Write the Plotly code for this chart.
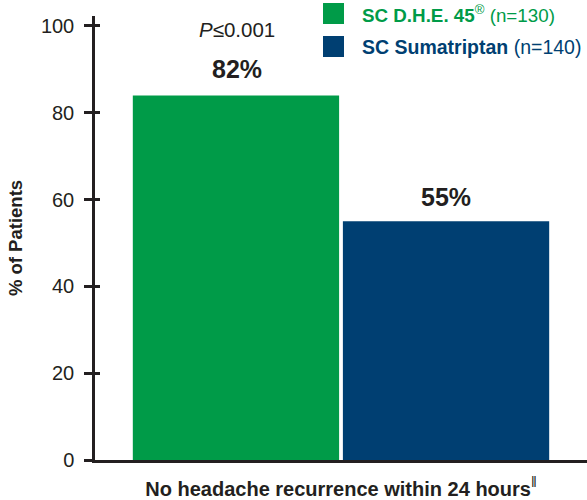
import plotly.graph_objects as go

# values
category = ["<b>No headache recurrence within 24 hours</b><sup>‖</sup>"]
groups = ["SC D.H.E. 45", "SC Sumatriptan"]
bar_heights = [84, 55]
bar_labels = ["82%", "55%"]
group_counts = [130, 140]
p_value_text = "<i>P</i>≤0.001"
y_ticks = [0, 20, 40, 60, 80, 100]

GREEN = "#009B48"
BLUE = "#003F72"
INK = "#231F20"
FONT = "Liberation Sans"

colors = [GREEN, BLUE]

fig = go.Figure()
for name, h, c in zip(groups, bar_heights, colors):
    fig.add_trace(go.Bar(x=category, y=[h], name=name, marker=dict(color=c, line_width=0),
                         showlegend=False, hoverinfo="skip"))

# invisible trace on the second y axis so the inner half of the ticks shows
fig.add_trace(go.Scatter(x=category, y=[None], yaxis="y2", showlegend=False, hoverinfo="skip"))

annotations = []
offsets = [-0.2115, 0.2135]
label_shift = [26, 24]
for off, h, lab, sh in zip(offsets, bar_heights, bar_labels, label_shift):
    annotations.append(dict(x=off, y=h, xref="x", yref="y", text="<b>%s</b>" % lab,
                            showarrow=False, yshift=sh, yanchor="middle",
                            font=dict(family=FONT, size=25, color=INK)))

annotations.append(dict(x=offsets[0], y=0.9707, xref="x", yref="paper", text=p_value_text,
                        showarrow=False, yanchor="middle",
                        font=dict(family=FONT, size=20.5, color=INK)))

# hand-made legend: coloured squares (shapes) and rich text
legend_y = [1.0056, 0.9313]
legend_text = ["<b>SC D.H.E. 45</b><sup>®</sup> (n=%d)" % group_counts[0],
               "<b>SC Sumatriptan</b> (n=%d)" % group_counts[1]]
legend_size = [18.8, 19.5]
shapes = []
for yy, c, t, fs in zip(legend_y, colors, legend_text, legend_size):
    shapes.append(dict(type="rect", xref="paper", yref="paper",
                       xsizemode="pixel", ysizemode="pixel", xanchor=0.4848, yanchor=yy,
                       x0=-10.5, x1=10.5, y0=-10.5, y1=10.5,
                       fillcolor=c, line_width=0))
    annotations.append(dict(x=0.5386, y=yy, xref="paper", yref="paper", text=t,
                            showarrow=False, xanchor="left", yanchor="middle",
                            font=dict(family=FONT, size=fs, color=c)))

fig.update_layout(
    width=587, height=500,
    margin=dict(l=95, r=0, t=16, b=40),
    paper_bgcolor="white", plot_bgcolor="white",
    barmode="group", bargap=0.146, bargroupgap=0.018,
    font=dict(family=FONT, color=INK),
    xaxis=dict(showline=True, linecolor=INK, linewidth=2.5, ticks="", showgrid=False,
               automargin=False, ticklabelstandoff=9,
               tickfont=dict(size=20, color=INK), range=[-0.5, 0.5]),
    yaxis=dict(range=[0, 102.3], tickvals=y_ticks, showline=True, linecolor=INK, linewidth=2.5,
               ticks="outside", ticklen=8, tickwidth=2.5, tickcolor=INK, showgrid=False,
               zeroline=False, ticklabelstandoff=6, automargin=False,
               tickfont=dict(size=20, color=INK),
               title=dict(text="<b>% of Patients</b>", font=dict(size=18.5, color=INK), standoff=14)),
    yaxis2=dict(range=[0, 102.3], tickvals=y_ticks, overlaying="y", side="left",
                ticks="inside", ticklen=5, tickwidth=2.5, tickcolor=INK, automargin=False,
                showticklabels=False, showgrid=False, zeroline=False, showline=False),
    shapes=shapes,
    annotations=annotations,
)

# drop the browser's default body margin so the figure sits at the page corner
fig.write_html("out.html", config={"displayModeBar": False},
               post_script="document.body.style.margin='0';")
